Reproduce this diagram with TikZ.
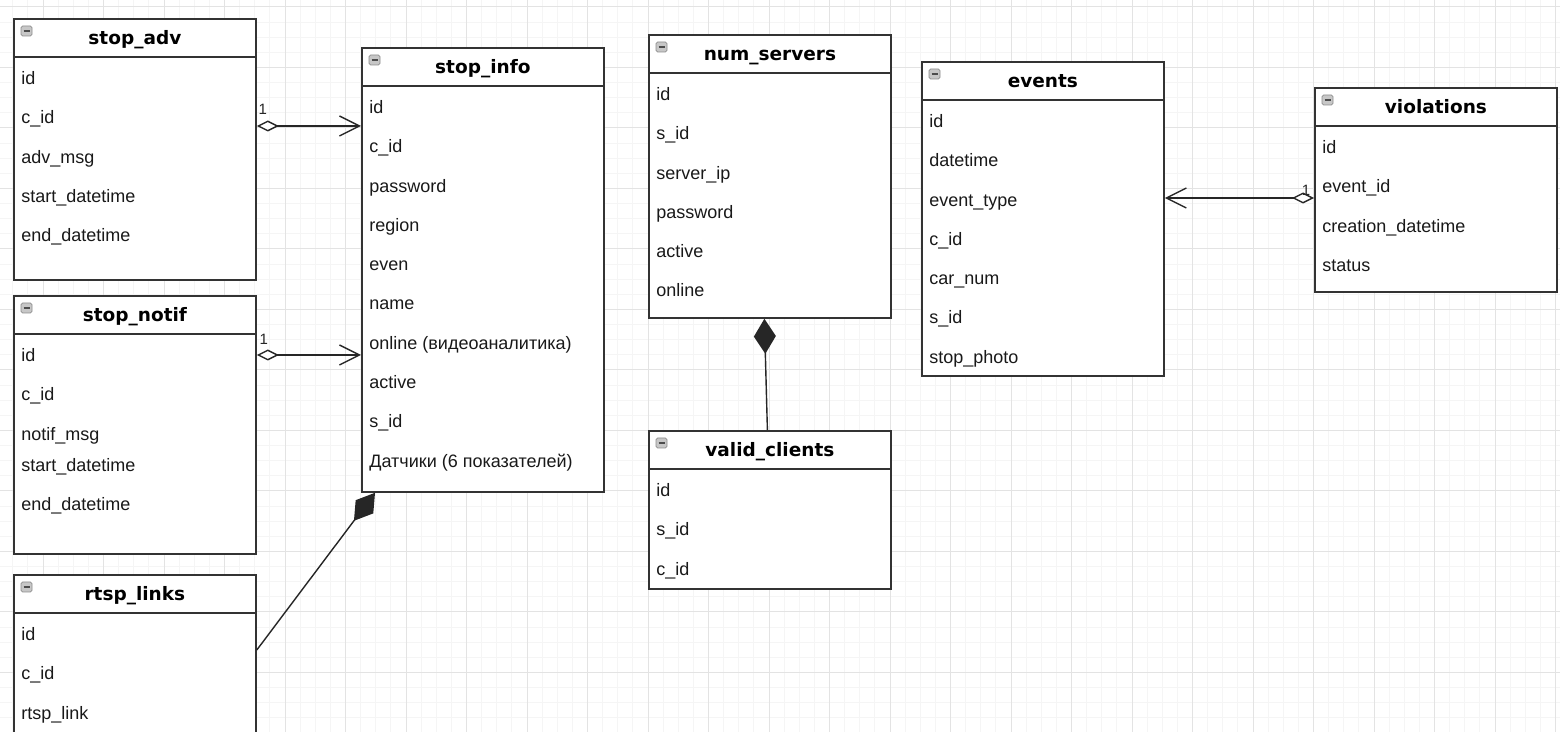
\documentclass[tikz,border=0pt]{standalone}
\usepackage{fontspec}
\setmainfont{Liberation Sans}
\newfontfamily\headfont{DejaVu Sans}
\usetikzlibrary{arrows.meta,calc}

\begin{document}
\begin{tikzpicture}[x=0.5pt,y=-0.5pt,
  tbl/.style={draw=black!80, line width=0.9pt, fill=white, anchor=north west,
    inner sep=0pt, minimum width=121pt},
  fld/.style={anchor=base west, inner sep=0pt, text=black!90,
    font=\fontsize{9}{11}\selectfont},
  ttl/.style={anchor=base, inner sep=0pt,
    font=\headfont\bfseries\fontsize{9.25}{11}\selectfont},
  agg/.style={draw=black!85, line width=0.7pt,
    {Diamond[fill=white,length=11pt,width=5.5pt]}-{Straight Barb[length=10pt,width=10pt]}},
  cmp/.style={draw=black!85, line width=0.7pt, -{Diamond[length=17.5pt,width=11pt]}},
  mult/.style={inner sep=0pt, text=black!85, font=\fontsize{7.5}{9}\selectfont}
]

\def\xmax{1560}
\def\ymax{732}

\fill[white] (0,0) rectangle (\xmax,\ymax);
\useasboundingbox (0,0) rectangle (\xmax,\ymax);

% grid
\foreach \k in {-2,...,101}
  \draw[black!4, line width=0.5pt] (43+15.125*\k,0) -- (43+15.125*\k,\ymax);
\foreach \k in {0,...,48}
  \draw[black!4, line width=0.5pt] (0,7+15.125*\k) -- (\xmax,7+15.125*\k);
\foreach \k in {0,...,25}
  \draw[black!11, line width=0.5pt] (43+60.5*\k,0) -- (43+60.5*\k,\ymax);
\foreach \k in {0,...,12}
  \draw[black!11, line width=0.5pt] (0,7+60.5*\k) -- (\xmax,7+60.5*\k);

% tables
\foreach \tname/\ttitle/\tx/\ty/\th in {
    stopadv/stop\_adv/13/18/261,
    stopnotif/stop\_notif/13/295/258,
    rtsplinks/rtsp\_links/13/574/200,
    stopinfo/stop\_info/361/47/444,
    numservers/num\_servers/648/34/283,
    validclients/valid\_clients/648/430/158,
    events/events/921/61/314,
    violations/violations/1314/87/204}{
  \node[tbl, minimum height=\th*0.5pt] (\tname) at (\tx,\ty) {};
  \draw[black!80, line width=0.9pt] ($(\tname.north west)+(0,39)$) -- ($(\tname.north east)+(0,39)$);
  \node[ttl] (\tname-title) at ($(\tname.north)+(0,27)$) {\ttitle};
  \draw[black!45, fill=black!22, rounded corners=0.8pt, line width=0.4pt]
    ($(\tname.north west)+(8,8)$) rectangle ++(11,10);
  \draw[black!70, line width=0.6pt] ($(\tname.north west)+(10.5,13)$) -- ++(6,0);
}

% fields
\foreach \f [count=\i from 0] in {id, c\_id, adv\_msg, start\_datetime, end\_datetime}
  \node[fld] (stopadv-\i) at ($(stopadv.north west)+(8,66.5+39.3*\i)$) {\f};
\foreach \f/\k [count=\i] in {id/0, c\_id/1, notif\_msg/2, start\_datetime/2.8, end\_datetime/3.8}
  \node[fld] (stopnotif-\i) at ($(stopnotif.north west)+(8,66.5+39.3*\k)$) {\f};
\foreach \f [count=\i from 0] in {id, c\_id, rtsp\_link}
  \node[fld] (rtsplinks-\i) at ($(rtsplinks.north west)+(8,66.5+39.3*\i)$) {\f};
\foreach \f [count=\i from 0] in {id, c\_id, password, region, even, name,
    online (видеоаналитика), active, s\_id, Датчики (6 показателей)}
  \node[fld] (stopinfo-\i) at ($(stopinfo.north west)+(8,66.5+39.3*\i)$) {\f};
\foreach \f [count=\i from 0] in {id, s\_id, server\_ip, password, active, online}
  \node[fld] (numservers-\i) at ($(numservers.north west)+(8,66.5+39.3*\i)$) {\f};
\foreach \f [count=\i from 0] in {id, s\_id, c\_id}
  \node[fld] (validclients-\i) at ($(validclients.north west)+(8,66.5+39.3*\i)$) {\f};
\foreach \f [count=\i from 0] in {id, datetime, event\_type, c\_id, car\_num, s\_id, stop\_photo}
  \node[fld] (events-\i) at ($(events.north west)+(8,66.5+39.3*\i)$) {\f};
\foreach \f [count=\i from 0] in {id, event\_id, creation\_datetime, status}
  \node[fld] (violations-\i) at ($(violations.north west)+(8,66.5+39.3*\i)$) {\f};

% links
\draw[agg] ($(stopadv.north east)+(0,108)$) -- ($(stopinfo.north west)+(0,79)$)
  node[mult, pos=0, xshift=3pt, yshift=8.5pt] (m1) {1};
\draw[agg] ($(stopnotif.north east)+(0,60)$) -- ($(stopinfo.north west)+(0,308)$)
  node[mult, pos=0, xshift=3.5pt, yshift=8pt] (m2) {1};
\draw[agg] ($(violations.north west)+(0,111)$) -- ($(events.north east)+(0,137)$)
  node[mult, pos=0, xshift=-4pt, yshift=4pt] (m3) {1};
\draw[cmp] ($(validclients.north)+(-2.5,0)$) -- ($(numservers.south)+(-5.5,0)$);
\draw[cmp] ($(rtsplinks.north east)+(0,76)$) -- ($(stopinfo.south west)+(14,0)$);
\end{tikzpicture}
\end{document}
